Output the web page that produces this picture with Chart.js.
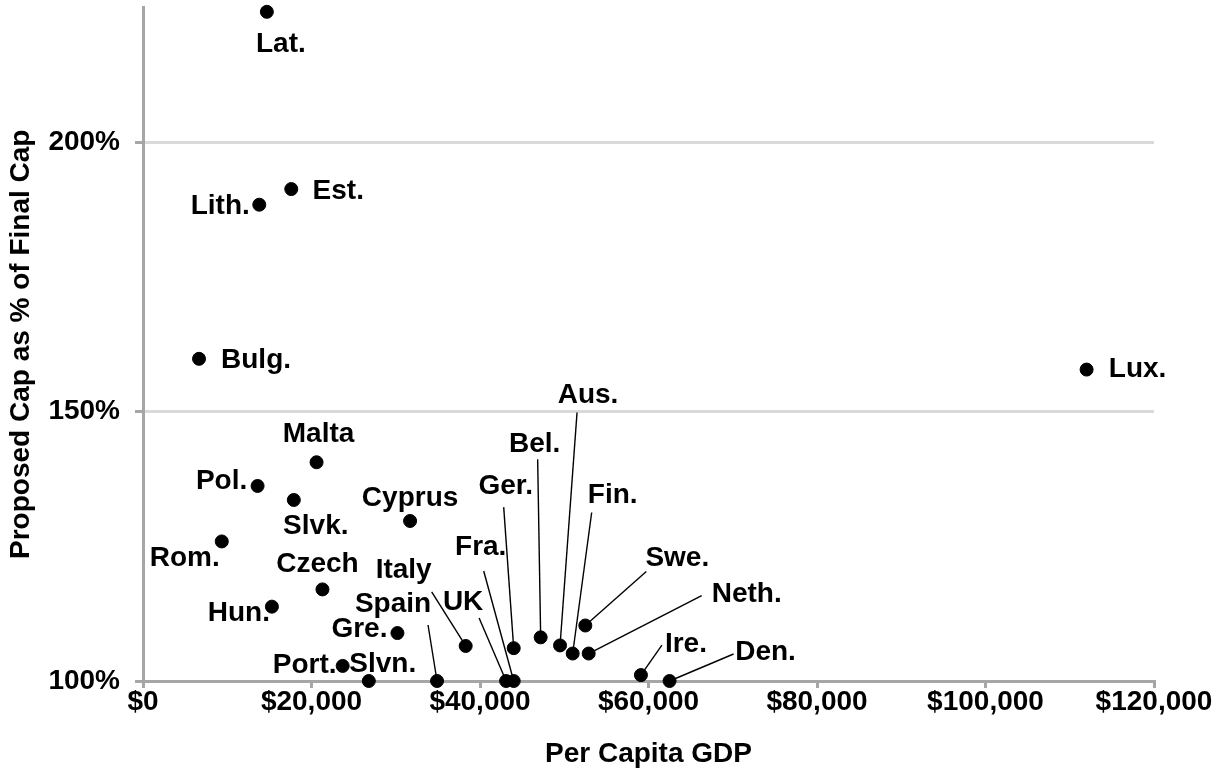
<!DOCTYPE html>
<html>
<head>
<meta charset="utf-8">
<title>Proposed Cap vs Per Capita GDP</title>
<script src="https://cdn.jsdelivr.net/npm/chart.js@4.4.1/dist/chart.umd.min.js"></script>
<style>
  html, body { margin: 0; padding: 0; background: #fff; }
  #wrap { width: 1213px; height: 771px; }
</style>
</head>
<body>
<div id="wrap"><canvas id="capChart" width="1213" height="771"></canvas></div>
<script>
// Country labels, per capita GDP ($) and proposed cap (% of final cap)
const countries = ['Lat.', 'Est.', 'Lith.', 'Bulg.', 'Lux.', 'Malta', 'Pol.', 'Slvk.', 'Cyprus',
    'Rom.', 'Czech', 'Hun.', 'Gre.', 'Port.', 'Slvn.', 'Spain', 'Italy', 'UK', 'Fra.', 'Ger.',
    'Bel.', 'Aus.', 'Fin.', 'Neth.', 'Swe.', 'Ire.', 'Den.'];
const gdp = [14700, 17600, 13800, 6650, 112000, 20600, 13600, 17900, 31700,
    9350, 21300, 15300, 30200, 23700, 26800, 34900, 38300, 43100, 44000, 44000,
    47200, 49500, 51000, 52900, 52500, 59100, 62500];
const capPct = [224.2, 191.3, 188.4, 159.8, 157.8, 140.6, 136.2, 133.6, 129.7,
    125.9, 117.0, 113.8, 108.9, 102.8, 100, 100, 106.5, 100, 100, 106.1,
    108.1, 106.6, 105.1, 105.1, 110.3, 101.1, 100];

// Axis ticks
const xTicks = [0, 20000, 40000, 60000, 80000, 100000, 120000];
const yTicks = [100, 150, 200];

// Label placement relative to the point (px); lx/ly = start of the leader line
const labelPos = {
    'Lat.':   { dx: 14,  dy: 32 },
    'Est.':   { dx: 47,  dy: 2 },
    'Lith.':  { dx: -39, dy: 2 },
    'Bulg.':  { dx: 57,  dy: 1 },
    'Lux.':   { dx: 51,  dy: 0 },
    'Malta':  { dx: 2,   dy: -28 },
    'Pol.':   { dx: -36, dy: -5 },
    'Slvk.':  { dx: 22,  dy: 26 },
    'Cyprus': { dx: 0,   dy: -23 },
    'Rom.':   { dx: -37, dy: 17 },
    'Czech':  { dx: -5,  dy: -25 },
    'Hun.':   { dx: -33, dy: 7 },
    'Gre.':   { dx: -38, dy: -4 },
    'Port.':  { dx: -38, dy: -1 },
    'Slvn.':  { dx: 14,  dy: -17 },
    'Spain':  { dx: -44, dy: -77,  lx: -9,  ly: -56 },
    'Italy':  { dx: -62, dy: -76,  lx: -34, ly: -54 },
    'UK':     { dx: -43, dy: -79,  lx: -27, ly: -63 },
    'Fra.':   { dx: -33, dy: -134, lx: -30, ly: -110 },
    'Ger.':   { dx: -8,  dy: -162, lx: -10, ly: -141 },
    'Bel.':   { dx: -6,  dy: -193, lx: -3,  ly: -178 },
    'Aus.':   { dx: 28,  dy: -250, lx: 17,  ly: -233 },
    'Fin.':   { dx: 40,  dy: -158, lx: 19,  ly: -141 },
    'Neth.':  { dx: 158, dy: -59,  lx: 113, ly: -58 },
    'Swe.':   { dx: 92,  dy: -67,  lx: 61,  ly: -54 },
    'Ire.':   { dx: 45,  dy: -31,  lx: 21,  ly: -30 },
    'Den.':   { dx: 96,  dy: -29,  lx: 64,  ly: -27 }
};

const FONT = '"Liberation Sans", Arial, sans-serif';
const AXIS_GREY = '#a6a6a6';
const GRID_GREY = '#d9d9d9';

// leader lines under the points, labels on top
const pointLabels = {
    id: 'pointLabels',
    beforeDatasetsDraw(chart) {
        const ctx = chart.ctx;
        const pts = chart.getDatasetMeta(0).data;
        ctx.save();
        ctx.strokeStyle = '#000';
        ctx.lineWidth = 1.4;
        countries.forEach((name, i) => {
            const p = labelPos[name];
            if (!p || p.lx === undefined) return;
            ctx.beginPath();
            ctx.moveTo(pts[i].x + p.lx, pts[i].y + p.ly);
            ctx.lineTo(pts[i].x, pts[i].y);
            ctx.stroke();
        });
        ctx.restore();
    },
    afterDatasetsDraw(chart) {
        const ctx = chart.ctx;
        const pts = chart.getDatasetMeta(0).data;
        ctx.save();
        ctx.fillStyle = '#000';
        ctx.font = 'bold 28px ' + FONT;
        ctx.textAlign = 'center';
        ctx.textBaseline = 'middle';
        countries.forEach((name, i) => {
            const p = labelPos[name] || { dx: 0, dy: -20 };
            ctx.fillText(name, pts[i].x + p.dx, pts[i].y + p.dy);
        });
        ctx.restore();
    }
};

new Chart(document.getElementById('capChart').getContext('2d'), {
    type: 'scatter',
    data: {
        datasets: [{
            label: 'Proposed Cap',
            data: gdp.map((g, i) => ({ x: g, y: capPct[i] })),
            backgroundColor: '#000',
            borderColor: '#000',
            pointRadius: 6.5,
            pointHoverRadius: 6.5,
            clip: false
        }]
    },
    options: {
        responsive: false,
        animation: false,
        layout: { padding: { top: 4, right: 59, left: 0, bottom: 0 } },
        plugins: {
            legend: { display: false },
            tooltip: { enabled: false }
        },
        scales: {
            x: {
                type: 'linear',
                min: 0,
                max: 120000,
                afterBuildTicks: scale => { scale.ticks = xTicks.map(v => ({ value: v })); },
                afterFit: scale => {
                    scale.height = 90;
                    scale.paddingLeft = 0;
                    scale.paddingRight = 0;
                },
                grid: { drawOnChartArea: false, drawTicks: true, tickLength: 7, color: AXIS_GREY, lineWidth: 3 },
                border: { color: AXIS_GREY, width: 3 },
                ticks: {
                    color: '#000',
                    padding: -3,
                    maxRotation: 0,
                    font: { family: FONT, size: 28, weight: 'bold' },
                    callback: v => '$' + v.toLocaleString('en-US')
                },
                title: {
                    display: true,
                    text: 'Per Capita GDP',
                    color: '#000',
                    padding: { top: 0, bottom: 0 },
                    font: { family: FONT, size: 28, weight: 'bold' }
                }
            },
            y: {
                type: 'linear',
                min: 100,
                max: 225,
                afterBuildTicks: scale => { scale.ticks = yTicks.map(v => ({ value: v })); },
                afterFit: scale => {
                    scale.width = 143;
                    scale.paddingTop = 0;
                    scale.paddingBottom = 0;
                },
                grid: {
                    color: ctx => (ctx.tick && ctx.tick.value === 100) ? AXIS_GREY : GRID_GREY,
                    tickColor: AXIS_GREY,
                    lineWidth: 3,
                    tickLength: 8
                },
                border: { color: AXIS_GREY, width: 3 },
                ticks: {
                    color: '#000',
                    padding: 15,
                    font: { family: FONT, size: 28, weight: 'bold' },
                    callback: v => v + '%'
                },
                title: {
                    display: true,
                    text: 'Proposed Cap as % of Final Cap',
                    color: '#000',
                    padding: { top: 4, bottom: 0 },
                    font: { family: FONT, size: 28, weight: 'bold' }
                }
            }
        }
    },
    plugins: [pointLabels]
});
</script>
</body>
</html>
